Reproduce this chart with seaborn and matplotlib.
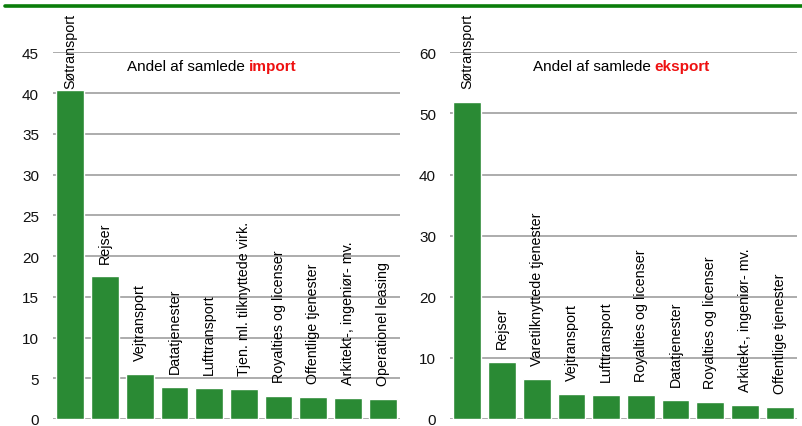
import matplotlib
matplotlib.use("Agg")
import matplotlib.pyplot as plt
import seaborn as sns
import pandas as pd
from matplotlib.lines import Line2D

import_categories = ["Søtransport", "Rejser", "Vejtransport", "Datatjenester", "Lufttransport",
                     "Tjen. ml. tilknyttede virk.", "Royalties og licenser", "Offentlige tjenester",
                     "Arkitekt-, ingeniør- mv.", "Operationel leasing"]
import_values = [40.4, 17.5, 5.5, 3.9, 3.8, 3.7, 2.8, 2.7, 2.6, 2.45]

export_categories = ["Søtransport", "Rejser", "Varetilknyttede tjenester", "Vejtransport", "Lufttransport",
                     "Royalties og licenser", "Datatjenester", "Royalties og licenser",
                     "Arkitekt-, ingeniør- mv.", "Offentlige tjenester"]
export_values = [51.9, 9.3, 6.55, 4.1, 3.9, 3.9, 3.1, 2.8, 2.3, 2.0]

import_ticks = [0, 5, 10, 15, 20, 25, 30, 35, 40, 45]
export_ticks = [0, 10, 20, 30, 40, 50, 60]

sns.set_theme(style="white")
plt.rcParams['font.family'] = ['Liberation Sans', 'DejaVu Sans']

BAR = "#2a8a34"
GRID = "#a6a6a6"

fig = plt.figure(figsize=(8.03, 4.27), dpi=100)
ax1 = fig.add_axes([53/803, 7/427, 347/803, 366.7/427])
ax2 = fig.add_axes([450/803, 7/427, 347/803, 366.7/427])

def panel(ax, cats, vals, ticks, word, first_small, split_x):
    df = pd.DataFrame({"pos": list(range(len(cats))), "val": vals})
    sns.barplot(data=df, x="pos", y="val", color=BAR, saturation=1, width=0.8, ax=ax, zorder=3)
    ax.set_ylim(ticks[0], ticks[-1])
    ax.set_xlim(-0.5, len(cats) - 0.5)
    ax.set_yticks(ticks)
    ax.set_yticklabels([str(t) for t in ticks], fontsize=11, color="#111111")
    ax.set_xticks([])
    ax.set_xlabel("")
    ax.set_ylabel("")
    ax.tick_params(axis="y", length=0, pad=10)
    for t in ticks:
        ax.axhline(t, color=GRID, lw=1.3, zorder=1)
    for s in ax.spines.values():
        s.set_visible(False)
    for i, (c, v) in enumerate(zip(cats, vals)):
        off = 1.5 if (i == 0 and first_small) else 10
        ax.annotate(c, xy=(i, v), xytext=(0, off), textcoords="offset points",
                    rotation=90, ha="center", va="bottom", fontsize=10.3, color="#000000",
                    annotation_clip=False)
    ax.text(split_x, 0.962, "Andel af samlede ", transform=ax.transAxes, ha="right", va="center",
            fontsize=11, color="#000000")
    ax.text(split_x, 0.962, word, transform=ax.transAxes, ha="left", va="center",
            fontsize=11, color="#ee1111", fontweight="bold")

panel(ax1, import_categories, import_values, import_ticks, "import", True, 0.565)
panel(ax2, export_categories, export_values, export_ticks, "eksport", False, 0.59)

fig.add_artist(Line2D([5/803, 1.0], [1 - 7/427, 1 - 7/427], color="#0a7d0a", lw=2.6,
                      transform=fig.transFigure))

fig.savefig("out.png", dpi=100)
